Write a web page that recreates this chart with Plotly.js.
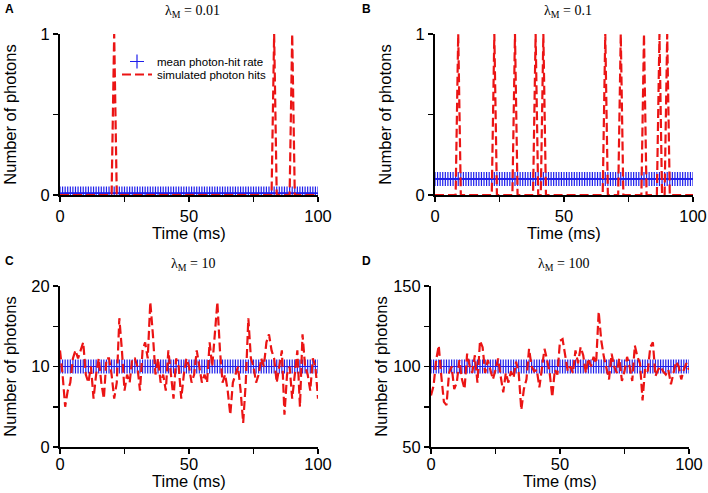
<!DOCTYPE html>
<html>
<head>
<meta charset="utf-8">
<script src="https://cdn.plot.ly/plotly-3.0.1.min.js"></script>
<style>
  body { margin: 0; background: white; }
  #chart { width: 708px; height: 493px; }
</style>
</head>
<body>
<div id="chart"></div>
<script>
// time grid (ms)
const time = [0,1,2,3,4,5,6,7,8,9,10,11,12,13,14,15,16,17,18,19,20,21,22,23,24,25,26,27,28,29,
  30,31,32,33,34,35,36,37,38,39,40,41,42,43,44,45,46,47,48,49,50,51,52,53,54,55,56,57,58,59,
  60,61,62,63,64,65,66,67,68,69,70,71,72,73,74,75,76,77,78,79,80,81,82,83,84,85,86,87,88,89,
  90,91,92,93,94,95,96,97,98,99,100]

// mean photon-hit rate of each panel
const mean_rates = [0.01, 0.1, 10, 100]
const titles = ['0.01', '0.1', '10', '100']
const letters = ['A', 'B', 'C', 'D']

// single photon hits (times in ms) for the low rate panels
const hits_a = [21, 83, 90]
const hits_b = [9, 23, 31, 39, 42, 66, 72, 81, 87, 90]

// simulated photon counts, lambda = 10
const counts_c = [12, 9, 5, 7, 8, 11, 12, 11, 12, 13,
  9, 8, 10, 6, 9, 11, 8, 6, 11, 11,
  9, 6, 8, 16, 12, 7, 9, 8, 11, 11,
  10, 7, 12, 13, 11, 18, 14, 9, 11, 8,
  9, 7, 12, 9, 6, 11, 10, 6, 9, 11,
  10, 8, 9, 12, 10, 8, 9, 8, 13, 10,
  14, 18, 12, 8, 9, 7, 4, 8, 9, 10,
  7, 3, 8, 16, 11, 10, 8, 9, 11, 10,
  13, 14, 12, 11, 8, 10, 12, 4, 9, 10,
  6, 9, 12, 5, 14, 10, 9, 7, 11, 10,
  6]

// simulated photon counts, lambda = 100
const counts_d = [82, 88, 104, 113, 94, 78, 76, 96, 100, 86,
  90, 104, 92, 86, 108, 100, 96, 107, 90, 116,
  112, 96, 104, 98, 92, 98, 105, 94, 84, 96,
  90, 97, 93, 103, 96, 73, 86, 92, 111, 100,
  97, 98, 87, 99, 111, 104, 96, 81, 98, 95,
  116, 117, 108, 97, 100, 96, 110, 102, 112, 107,
  96, 105, 100, 106, 102, 134, 116, 106, 99, 92,
  108, 100, 96, 105, 91, 97, 106, 100, 91, 113,
  106, 102, 79, 99, 97, 112, 115, 94, 98, 100,
  97, 95, 98, 89, 96, 103, 100, 92, 98, 102,
  98]

// axis ticks (major / minor step)
const x_dtick = 50, x_minor = 25
const y_ranges = [[0, 1], [0, 1], [0, 20], [50, 150]]
const y_dticks = [1, 1, 10, 50]
const y_minors = [0.5, 0.5, 5, 25]

function hits_to_counts(hits) {
    return time.map(t => hits.indexOf(t) >= 0 ? 1 : 0)
}

const counts = [hits_to_counts(hits_a), hits_to_counts(hits_b), counts_c, counts_d]

const W = 708, H = 493
// plot areas in px: [left, right, top, bottom]
const boxes = [[60, 318, 34, 195], [435, 693, 34, 195], [60, 318, 286, 447], [431, 689, 286, 447]]
const xtitle_y = [233, 233, 481, 481]
const xlabel_shift = [0, 0, -4, -4]

const font_tick = { family: 'Liberation Sans, Arial, sans-serif', size: 16.5, color: 'black' }
const blue = 'rgb(30,30,235)'
const red = 'rgb(235,20,20)'

let data = []
let layout = {
    width: W,
    height: H,
    margin: { l: 0, r: 0, t: 0, b: 0 },
    paper_bgcolor: 'white',
    plot_bgcolor: 'white',
    showlegend: true,
    legend: {
        x: 117 / W, xanchor: 'left', y: 1 - 47 / H, yanchor: 'top',
        bgcolor: 'rgba(0,0,0,0)', itemwidth: 30,
        font: { family: 'Liberation Sans, Arial, sans-serif', size: 11.5, color: 'black' }
    },
    legend2: {
        x: 117 / W, xanchor: 'left', y: 1 - 60 / H, yanchor: 'top',
        bgcolor: 'rgba(0,0,0,0)', itemwidth: 30,
        font: { family: 'Liberation Sans, Arial, sans-serif', size: 11.5, color: 'black' }
    },
    annotations: []
}

for (let i = 0; i < 4; i++) {
    const n = i == 0 ? '' : String(i + 1)
    const b = boxes[i]
    data.push({
        x: time,
        y: time.map(() => mean_rates[i]),
        xaxis: 'x' + n, yaxis: 'y' + n,
        type: 'scatter', mode: 'markers',
        name: 'mean photon-hit rate',
        legend: 'legend',
        showlegend: i == 0,
        marker: { symbol: 'cross-thin', size: 10, line: { width: 1.2, color: blue } }
    })
    data.push({
        x: time,
        y: counts[i],
        xaxis: 'x' + n, yaxis: 'y' + n,
        type: 'scatter', mode: 'lines',
        name: 'simulated photon hits',
        legend: 'legend2',
        showlegend: i == 0,
        line: { color: red, width: 2.2, dash: '9px,4px' }
    })
    layout['xaxis' + n] = {
        domain: [b[0] / W, b[1] / W], anchor: 'y' + n,
        range: [0, 100], tick0: 0, dtick: x_dtick,
        ticks: 'outside', ticklen: 5, tickwidth: 1.5, tickcolor: 'black',
        ticklabelstandoff: xlabel_shift[i],
        minor: { dtick: x_minor, ticks: 'outside', ticklen: 5, tickwidth: 1.5, tickcolor: 'black' },
        showline: true, linewidth: 2, linecolor: 'black',
        showgrid: false, zeroline: false, layer: 'below traces',
        tickfont: font_tick
    }
    layout['yaxis' + n] = {
        domain: [1 - b[3] / H, 1 - b[2] / H], anchor: 'x' + n,
        range: y_ranges[i], tick0: y_ranges[i][0], dtick: y_dticks[i],
        ticks: 'outside', ticklen: 5, tickwidth: 1.5, tickcolor: 'black',
        minor: { dtick: y_minors[i], ticks: 'outside', ticklen: 5, tickwidth: 1.5, tickcolor: 'black' },
        showline: true, linewidth: 2, linecolor: 'black',
        showgrid: false, zeroline: false, layer: 'below traces',
        tickfont: font_tick,
        title: { text: 'Number of photons', font: font_tick }
    }
    // x axis title
    layout.annotations.push({
        xref: 'paper', yref: 'paper',
        x: (b[0] + b[1]) / 2 / W, y: 1 - xtitle_y[i] / H,
        xanchor: 'center', yanchor: 'middle', showarrow: false,
        text: 'Time (ms)', font: font_tick
    })
    layout.annotations.push({
        xref: 'paper', yref: 'paper',
        x: (b[0] + b[1]) / 2 / W + 0.005, y: 1 - (b[2] - 22) / H,
        xanchor: 'center', yanchor: 'middle', showarrow: false,
        text: 'λ<sub>M</sub> = ' + titles[i],
        font: { family: 'Liberation Serif, Times New Roman, serif', size: 14, color: 'black' }
    })
    layout.annotations.push({
        xref: 'paper', yref: 'paper',
        x: (i % 2 == 0 ? 3 : 360) / W, y: 1 - (b[2] - 25) / H,
        xanchor: 'left', yanchor: 'middle', showarrow: false,
        text: '<b>' + letters[i] + '</b>',
        font: { family: 'Liberation Sans, Arial, sans-serif', size: 12, color: 'black' }
    })
}

Plotly.newPlot('chart', data, layout, { displayModeBar: false, staticPlot: true })
</script>
</body>
</html>
